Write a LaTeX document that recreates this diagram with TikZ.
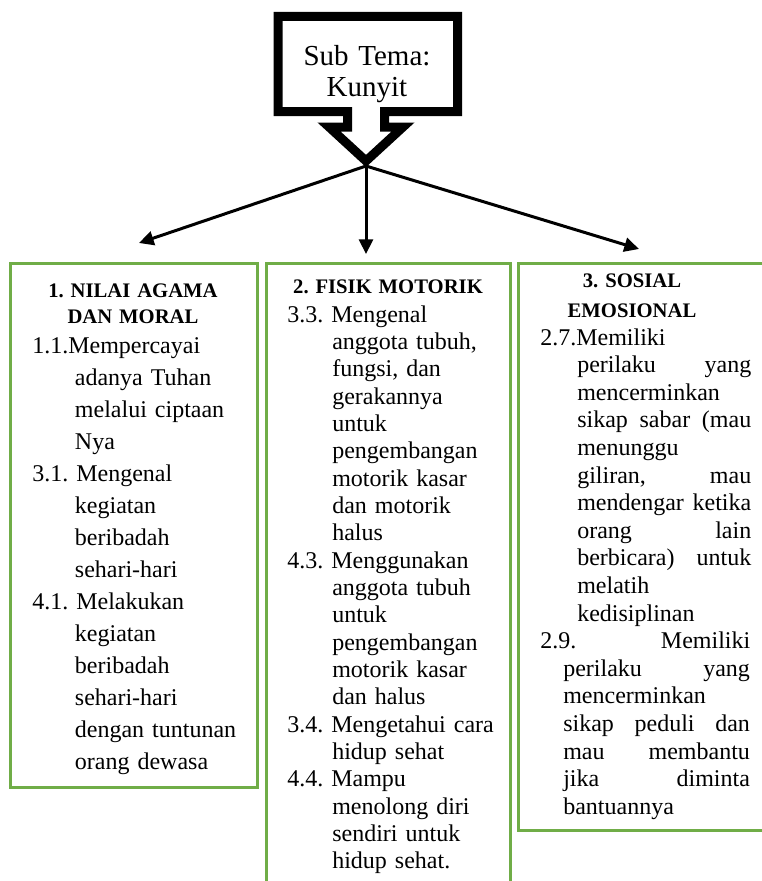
\documentclass[tikz,border=0pt]{standalone}
\usepackage{fontspec}
\setmainfont{Liberation Serif}
\usetikzlibrary{arrows.meta, positioning}
\frenchspacing
\definecolor{boxgreen}{HTML}{70AD47}
\tikzstyle{greenbox} = [rectangle, draw=boxgreen, line width=2.25pt, inner sep=0pt]
\tikzstyle{heading} = [anchor=base, align=center, text width=170pt, inner sep=0pt]
\tikzstyle{body} = [anchor=base west, align=left, text width=164pt, inner sep=0pt]
\tikzstyle{arrow} = [line width=2.25pt, -{Triangle[length=11pt, width=10.5pt]}]
\tikzstyle{callout} = [draw=black, fill=white, line width=6.75pt, line join=miter]
\newcommand{\ind}[1]{\hspace*{#1}}
\newcommand{\justline}[2]{\leavevmode\hbox to #1{#2}}

\begin{document}
\begin{tikzpicture}[x=0.75pt, y=-0.75pt]
\useasboundingbox (0,0) rectangle (762,881);

% callout sub tema
\draw [callout] (278,16.5) -- (457.5,16.5) -- (457.5,111.5) -- (384.5,111.5) -- (384.5,127) -- (403,127)
  -- (366,161) -- (329,127) -- (347.5,127) -- (347.5,111.5) -- (278,111.5) -- cycle;
\node (tema) [anchor=base, align=center, text width=160pt, inner sep=0pt, font=\fontsize{21.75pt}{23.25pt}\selectfont] at (367,65) {Sub Tema:\\Kunyit};
\coordinate (tip) at (366,166);

% kotak
\node (box1) [greenbox, minimum width=185.25pt, minimum height=393pt] at (133.5,525) {};
\node (box2) [greenbox, minimum width=183pt, minimum height=472.5pt] at (388,578) {};
\node (box3) [greenbox, minimum width=184.5pt, minimum height=425.25pt] at (641,546.5) {};

\coordinate (end1) at (139,243);
\coordinate (end2) at (366,254);
\coordinate (end3) at (639,249);

\draw [arrow] (tip) -- (end1);
\draw [arrow] (tip) -- (end2);
\draw [arrow] (tip) -- (end3);

% 1. nilai agama dan moral
\node (head1) [heading, font=\fontsize{15.5pt}{19.5pt}\selectfont\bfseries] at (133,297) {1. NILAI AGAMA\\DAN MORAL};
\node (text1) [body, font=\fontsize{18pt}{24pt}\selectfont] at (32,353) {%
1.1.Mempercayai\\
\ind{32pt}adanya Tuhan\\
\ind{32pt}melalui ciptaan\\
\ind{32pt}Nya\\
3.1. Mengenal\\
\ind{32pt}kegiatan\\
\ind{32pt}beribadah\\
\ind{32pt}sehari-hari\\
4.1. Melakukan\\
\ind{32pt}kegiatan\\
\ind{32pt}beribadah\\
\ind{32pt}sehari-hari\\
\ind{32pt}dengan tuntunan\\
\ind{32pt}orang dewasa};

% 2. fisik motorik
\node (head2) [heading, font=\fontsize{15.5pt}{19.5pt}\selectfont\bfseries] at (388,293) {2. FISIK MOTORIK};
\node (text2) [body, font=\fontsize{18pt}{20.5pt}\selectfont] at (287,322) {%
3.3. Mengenal\\
\ind{33.75pt}anggota tubuh,\\
\ind{33.75pt}fungsi, dan\\
\ind{33.75pt}gerakannya\\
\ind{33.75pt}untuk\\
\ind{33.75pt}pengembangan\\
\ind{33.75pt}motorik kasar\\
\ind{33.75pt}dan motorik\\
\ind{33.75pt}halus\\
4.3. Menggunakan\\
\ind{33.75pt}anggota tubuh\\
\ind{33.75pt}untuk\\
\ind{33.75pt}pengembangan\\
\ind{33.75pt}motorik kasar\\
\ind{33.75pt}dan halus\\
3.4. Mengetahui cara\\
\ind{33.75pt}hidup sehat\\
4.4. Mampu\\
\ind{33.75pt}menolong diri\\
\ind{33.75pt}sendiri untuk\\
\ind{33.75pt}hidup sehat.};

% 3. sosial emosional
\node (head3) [heading, font=\fontsize{15.5pt}{22.5pt}\selectfont\bfseries] at (632,287) {3. SOSIAL\\EMOSIONAL};
\node (text3) [body, text width=160pt, font=\fontsize{18pt}{20.7pt}\selectfont] at (540,345) {%
2.7.Memiliki\\
\ind{27.75pt}\justline{130.5pt}{perilaku\hfill yang}\\
\ind{27.75pt}mencerminkan\\
\ind{27.75pt}\justline{130.5pt}{sikap\hfill sabar\hfill (mau}\\
\ind{27.75pt}menunggu\\
\ind{27.75pt}\justline{130.5pt}{giliran,\hfill mau}\\
\ind{27.75pt}\justline{130.5pt}{mendengar\hfill ketika}\\
\ind{27.75pt}\justline{130.5pt}{orang\hfill lain}\\
\ind{27.75pt}\justline{130.5pt}{berbicara)\hfill untuk}\\
\ind{27.75pt}melatih\\
\ind{27.75pt}kedisiplinan\\
\justline{157.5pt}{2.9.\hfill Memiliki}\\
\ind{17.25pt}\justline{140pt}{perilaku\hfill yang}\\
\ind{17.25pt}mencerminkan\\
\ind{17.25pt}\justline{140pt}{sikap\hfill peduli\hfill dan}\\
\ind{17.25pt}\justline{140pt}{mau\hfill membantu}\\
\ind{17.25pt}\justline{140pt}{jika\hfill diminta}\\
\ind{17.25pt}bantuannya};

\end{tikzpicture}
\end{document}
